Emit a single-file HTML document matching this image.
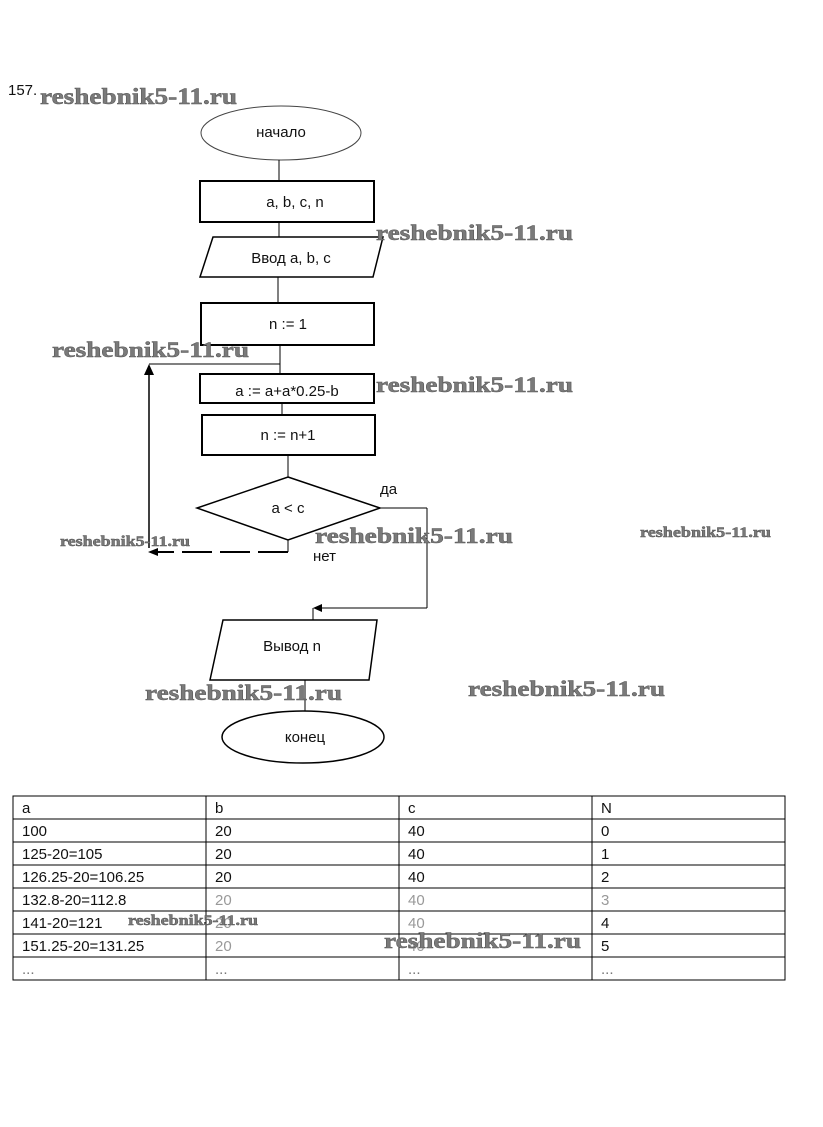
<!DOCTYPE html>
<html><head><meta charset="utf-8"><style>
html,body{margin:0;padding:0;background:#fff;}
svg{display:block}
.t{font-family:"Liberation Sans","DejaVu Sans",sans-serif;font-size:15px;fill:#111}
.w{font-family:"Liberation Serif",serif;font-weight:bold;fill:#7a7a7a;stroke:#555;stroke-width:0.5}
</style></head><body>
<svg width="823" height="1127" viewBox="0 0 823 1127" xmlns="http://www.w3.org/2000/svg">
<g fill="none" stroke="#000" stroke-width="2">
<ellipse cx="281" cy="133" rx="80" ry="27" stroke-width="1" stroke="#444"/>
<line x1="279" y1="160" x2="279" y2="181" stroke-width="1"/>
<rect x="200" y="181" width="174" height="41"/>
<line x1="279" y1="222" x2="279" y2="237" stroke-width="1"/>
<polygon points="213,237 383,237 373,277 200,277" stroke-width="1.5"/>
<line x1="278" y1="277" x2="278" y2="303" stroke-width="1"/>
<rect x="201" y="303" width="173" height="42"/>
<line x1="280" y1="345" x2="280" y2="374" stroke-width="1"/>
<line x1="280" y1="364" x2="149" y2="364" stroke-width="1"/>
<line x1="149" y1="548" x2="149" y2="372" stroke-width="1.5"/>
<polygon points="149,364 144,375 154,375" fill="#000" stroke="none"/>
<rect x="200" y="374" width="174" height="29"/>
<line x1="282" y1="403" x2="282" y2="415" stroke-width="1"/>
<rect x="202" y="415" width="173" height="40"/>
<line x1="288" y1="455" x2="288" y2="477" stroke-width="1"/>
<polygon points="288,477 380,508 288,540 197,508" stroke-width="1.5"/>
<line x1="380" y1="508" x2="427" y2="508" stroke-width="1"/>
<line x1="427" y1="508" x2="427" y2="608" stroke-width="1"/>
<line x1="427" y1="608" x2="318" y2="608" stroke-width="1"/>
<polygon points="313,608 322,604 322,612" fill="#000" stroke="none"/>
<line x1="313" y1="608" x2="313" y2="620" stroke-width="1"/>
<line x1="288" y1="540" x2="288" y2="552" stroke-width="1"/>
<line x1="288" y1="552" x2="156" y2="552" stroke-width="2" stroke-dasharray="30,8"/>
<polygon points="148,552 158,548 158,556" fill="#000" stroke="none"/>
<polygon points="223,620 377,620 369,680 210,680" stroke-width="1.5"/>
<line x1="305" y1="680" x2="305" y2="711" stroke-width="1"/>
<ellipse cx="303" cy="737" rx="81" ry="26" stroke-width="1.5"/>
</g>
<text class="t" x="8" y="95" font-size="13">157.</text>
<text class="t" x="281" y="137" text-anchor="middle" fill="#888">начало</text>
<text class="t" x="295" y="207" text-anchor="middle" fill="#777">a, b, c, n</text>
<text class="t" x="291" y="263" text-anchor="middle">Ввод a, b, c</text>
<text class="t" x="288" y="329" text-anchor="middle">n := 1</text>
<text class="t" x="287" y="396" text-anchor="middle">a := a+a*0.25-b</text>
<text class="t" x="288" y="440" text-anchor="middle">n := n+1</text>
<text class="t" x="288" y="513" text-anchor="middle">a &lt; c</text>
<text class="t" x="380" y="494">да</text>
<text class="t" x="313" y="561" fill="#999">нет</text>
<text class="t" x="292" y="651" text-anchor="middle">Вывод n</text>
<text class="t" x="305" y="742" text-anchor="middle">конец</text>
<g stroke="#000" stroke-width="1" fill="none">
<rect x="13" y="796" width="772" height="184"/>
<line x1="206" y1="796" x2="206" y2="980"/><line x1="399" y1="796" x2="399" y2="980"/><line x1="592" y1="796" x2="592" y2="980"/>
<line x1="13" y1="819" x2="785" y2="819"/><line x1="13" y1="842" x2="785" y2="842"/><line x1="13" y1="865" x2="785" y2="865"/><line x1="13" y1="888" x2="785" y2="888"/><line x1="13" y1="911" x2="785" y2="911"/><line x1="13" y1="934" x2="785" y2="934"/><line x1="13" y1="957" x2="785" y2="957"/>
</g>
<g class="t">
<text x="22" y="813">a</text><text x="215" y="813">b</text><text x="408" y="813">c</text><text x="601" y="813">N</text>
<text x="22" y="836">100</text><text x="215" y="836">20</text><text x="408" y="836">40</text><text x="601" y="836">0</text>
<text x="22" y="859">125-20=105</text><text x="215" y="859">20</text><text x="408" y="859">40</text><text x="601" y="859">1</text>
<text x="22" y="882">126.25-20=106.25</text><text x="215" y="882">20</text><text x="408" y="882">40</text><text x="601" y="882">2</text>
<text x="22" y="905">132.8-20=112.8</text><text x="215" y="905" fill="#999">20</text><text x="408" y="905" fill="#999">40</text><text x="601" y="905" fill="#999">3</text>
<text x="22" y="928">141-20=121</text><text x="215" y="928" fill="#999">20</text><text x="408" y="928" fill="#999">40</text><text x="601" y="928">4</text>
<text x="22" y="951">151.25-20=131.25</text><text x="215" y="951" fill="#999">20</text><text x="408" y="951" fill="#999">40</text><text x="601" y="951">5</text>
<text x="22" y="974" fill="#777">...</text><text x="215" y="974" fill="#777">...</text><text x="408" y="974" fill="#777">...</text><text x="601" y="974" fill="#777">...</text>
</g>
<g class="w">
<text x="40" y="104" font-size="23" textLength="197" lengthAdjust="spacingAndGlyphs">reshebnik5-11.ru</text>
<text x="376" y="240" font-size="22" textLength="197" lengthAdjust="spacingAndGlyphs">reshebnik5-11.ru</text>
<text x="52" y="357" font-size="22" textLength="197" lengthAdjust="spacingAndGlyphs">reshebnik5-11.ru</text>
<text x="376" y="392" font-size="22" textLength="197" lengthAdjust="spacingAndGlyphs">reshebnik5-11.ru</text>
<text x="60" y="546" font-size="15" textLength="130" lengthAdjust="spacingAndGlyphs">reshebnik5-11.ru</text>
<text x="315" y="543" font-size="22" textLength="198" lengthAdjust="spacingAndGlyphs">reshebnik5-11.ru</text>
<text x="640" y="537" font-size="15" textLength="131" lengthAdjust="spacingAndGlyphs">reshebnik5-11.ru</text>
<text x="145" y="700" font-size="22" textLength="197" lengthAdjust="spacingAndGlyphs">reshebnik5-11.ru</text>
<text x="468" y="696" font-size="22" textLength="197" lengthAdjust="spacingAndGlyphs">reshebnik5-11.ru</text>
<text x="128" y="925" font-size="15" textLength="130" lengthAdjust="spacingAndGlyphs">reshebnik5-11.ru</text>
<text x="384" y="948" font-size="22" textLength="197" lengthAdjust="spacingAndGlyphs">reshebnik5-11.ru</text>
</g>
</svg>
</body></html>
